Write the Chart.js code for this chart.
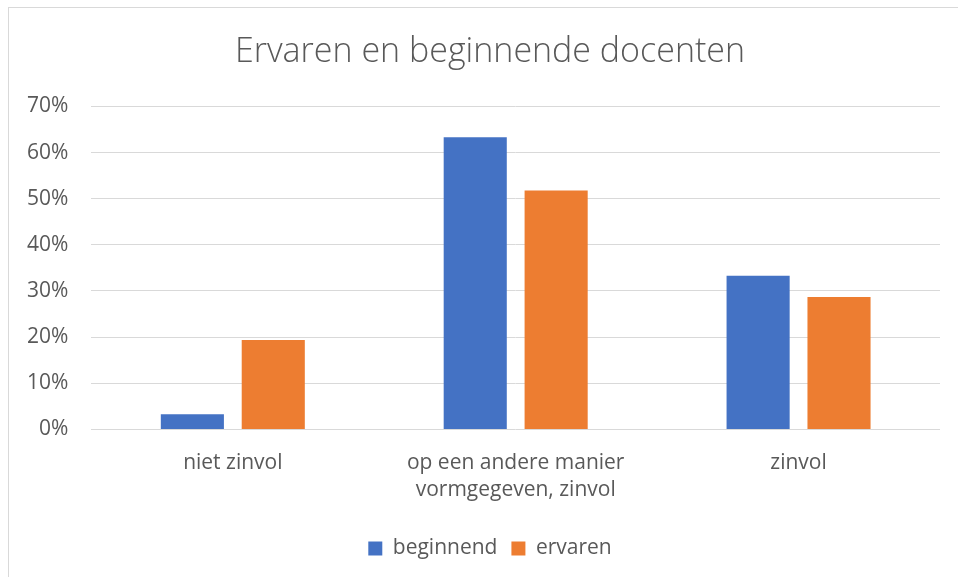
<!DOCTYPE html>
<html>
<head>
<meta charset="utf-8">
<script src="https://cdn.jsdelivr.net/npm/chart.js@4"></script>
<style>
  html, body { margin: 0; padding: 0; background: #ffffff; overflow: hidden; width: 958px; height: 577px; }
  #frame { position: absolute; left: 8px; top: 7px; width: 970px; height: 590px; border: 1px solid #d9d9d9; box-sizing: border-box; }
  #wrap { position: absolute; left: 0; top: 0; width: 990px; height: 577px; }
</style>
</head>
<body>
<div id="frame"></div>
<div id="wrap"><canvas id="c" width="990" height="577"></canvas></div>
<script>
const categories = [["niet zinvol"], ["op een andere manier", "vormgegeven, zinvol"], ["zinvol"]];
const beginnend = [3.3, 63.3, 33.3];
const ervaren = [19.4, 51.8, 28.7];
const seriesNames = ["beginnend", "ervaren"];
const yTicks = [0, 10, 20, 30, 40, 50, 60, 70];

const FONT = "'Open Sans', 'Liberation Sans', sans-serif";
Chart.defaults.font.family = FONT;
Chart.defaults.color = '#595959';

new Chart(document.getElementById('c'), {
  type: 'bar',
  data: {
    labels: categories,
    datasets: [
      { label: seriesNames[0], data: beginnend, backgroundColor: '#4472c4', categoryPercentage: 0.572, barPercentage: 0.78 },
      { label: seriesNames[1], data: ervaren, backgroundColor: '#ed7d31', categoryPercentage: 0.572, barPercentage: 0.78 }
    ]
  },
  options: {
    responsive: false,
    animation: false,
    devicePixelRatio: 1,
    layout: { padding: { left: 4, right: 14, top: 34, bottom: 8 } },
    plugins: {
      title: {
        display: true,
        text: 'Ervaren en beginnende docenten',
        color: '#595959',
        font: { size: 34, weight: '300', family: FONT, lineHeight: 1.1 },
        padding: { top: 0, bottom: 35 }
      },
      legend: {
        position: 'bottom',
        labels: {
          boxWidth: 14, boxHeight: 14, padding: 14,
          color: '#595959',
          font: { size: 21 }
        }
      },
      tooltip: { enabled: false }
    },
    scales: {
      x: {
        grid: { display: false, drawTicks: false },
        border: { display: false },
        ticks: { color: '#595959', font: { size: 21, lineHeight: 1.3 }, padding: 20, maxRotation: 0 }
      },
      y: {
        min: 0, max: 70,
        afterBuildTicks: (axis) => { axis.ticks = yTicks.map(v => ({ value: v })); },
        grid: { color: '#d9d9d9', lineWidth: 1, drawTicks: false },
        border: { display: false },
        ticks: { color: '#595959', font: { size: 21 }, padding: 23, callback: v => v + '%' }
      },
      yRight: {
        position: 'right',
        display: true,
        grid: { display: false, drawTicks: false },
        border: { display: false },
        ticks: { display: false },
        afterFit: (axis) => { axis.width = 36; }
      }
    }
  }
});
</script>
</body>
</html>
